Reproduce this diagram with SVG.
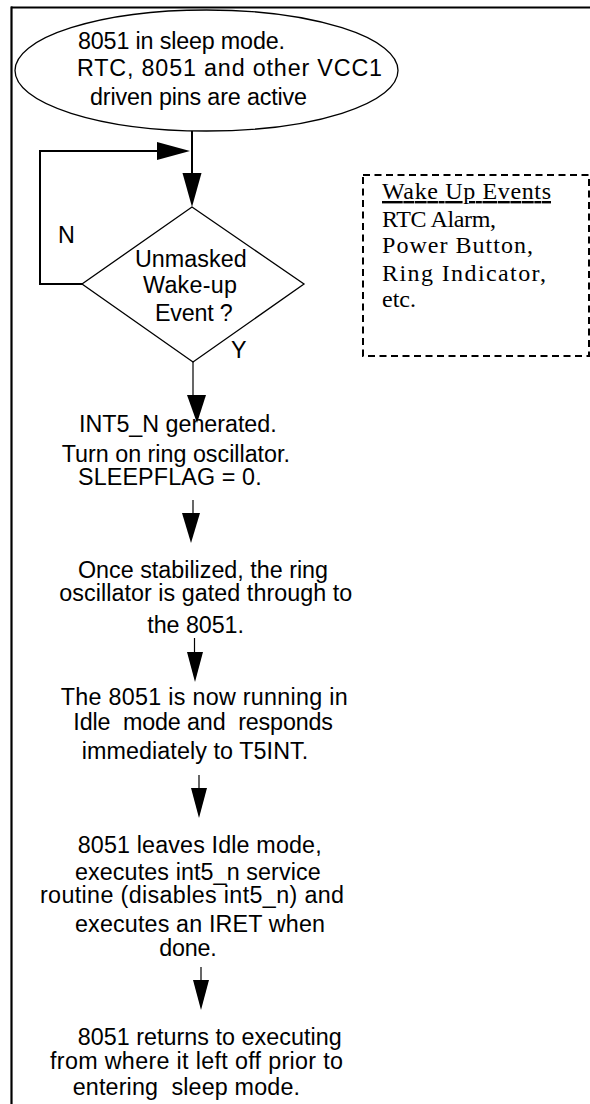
<svg xmlns="http://www.w3.org/2000/svg" width="590" height="1104" viewBox="0 0 590 1104">
<style>
.t{font-family:"Liberation Sans",Arial,Helvetica,sans-serif;font-size:23.3px;fill:#000}
.s{font-family:"Liberation Serif","Times New Roman",serif;font-size:24px;fill:#000}
.ln{fill:none;stroke:#000;stroke-width:2}
.th{fill:none;stroke:#000;stroke-width:1.2}
.hd{fill:#000;stroke:none}
.shape{fill:none;stroke:#000;stroke-width:1.3}
</style>
<rect x="0" y="0" width="590" height="1104" fill="#fff"/>
<g id="frame">
<line x1="11" y1="7.5" x2="590" y2="7.5" stroke="#000" stroke-width="2.2"/>
<line x1="11.5" y1="6.5" x2="11.5" y2="1104" stroke="#000" stroke-width="2.2"/>
</g>
<g id="connectors">
<line class="ln" x1="192" y1="131" x2="192" y2="176"/>
<polygon class="hd" points="182.5,173 201.5,173 192,207"/>
<polyline class="ln" points="82,284 40,284 40,151 160,151"/>
<polygon class="hd" points="157,142 157,160 190,151"/>
<line class="th" x1="193" y1="362" x2="193" y2="398"/>
<polygon class="hd" points="187,395 206,395 197,423"/>
<line class="th" x1="193" y1="500" x2="193" y2="516"/>
<polygon class="hd" points="182,513 200,513 191,543"/>
<line class="th" x1="194.5" y1="638" x2="194.5" y2="655"/>
<polygon class="hd" points="187,652 203,652 195,682"/>
<line class="th" x1="199" y1="775" x2="199" y2="791"/>
<polygon class="hd" points="191,788 207,788 199,818"/>
<line class="th" x1="201" y1="967" x2="201" y2="983"/>
<polygon class="hd" points="193,980 209,980 201,1010"/>
</g>
<g id="start">
<ellipse class="shape" cx="206.5" cy="70.5" rx="191.5" ry="60.5"/>
<text class="t" x="78" y="49" textLength="207" lengthAdjust="spacing">8051 in sleep mode.</text>
<text class="t" x="77" y="76" textLength="305" lengthAdjust="spacing">RTC, 8051 and other VCC1</text>
<text class="t" x="90" y="105" textLength="217" lengthAdjust="spacing">driven pins are active</text>
</g>
<g id="decision">
<polygon class="shape" points="192,207 304,284 193,362 82,284"/>
<text class="t" x="135" y="267" textLength="111.7" lengthAdjust="spacing">Unmasked</text>
<text class="t" x="143" y="293" textLength="94" lengthAdjust="spacing">Wake-up</text>
<text class="t" x="155" y="321" textLength="77.7" lengthAdjust="spacing">Event ?</text>
<text class="t" x="58" y="243">N</text>
<text class="t" x="231" y="358">Y</text>
</g>
<g id="wake-events">
<rect x="363" y="175" width="226" height="181" fill="none" stroke="#000" stroke-width="2" stroke-dasharray="7,4.5"/>
<text class="s" x="382" y="199" textLength="169" lengthAdjust="spacing" text-decoration="underline">Wake Up Events</text>
<text class="s" x="382" y="227" textLength="114" lengthAdjust="spacing">RTC Alarm,</text>
<text class="s" x="382" y="253" textLength="151" lengthAdjust="spacing">Power Button,</text>
<text class="s" x="382" y="281" textLength="164" lengthAdjust="spacing">Ring Indicator,</text>
<text class="s" x="382" y="307">etc.</text>
</g>
<g id="step1">
<text class="t" x="79" y="432" textLength="197.7" lengthAdjust="spacing">INT5_N generated.</text>
<text class="t" x="61.7" y="462" textLength="228.3" lengthAdjust="spacing">Turn on ring oscillator.</text>
<text class="t" x="78" y="485" textLength="183.7" lengthAdjust="spacing">SLEEPFLAG = 0.</text>
</g>
<g id="step2">
<text class="t" x="78" y="578" textLength="250" lengthAdjust="spacing">Once stabilized, the ring</text>
<text class="t" x="59.3" y="601" textLength="293" lengthAdjust="spacing">oscillator is gated through to</text>
<text class="t" x="147.3" y="633" textLength="96.7" lengthAdjust="spacing">the 8051.</text>
</g>
<g id="step3">
<text class="t" x="60.7" y="705" textLength="287" lengthAdjust="spacing">The 8051 is now running in</text>
<text class="t" x="73.3" y="730" xml:space="preserve" textLength="259.7" lengthAdjust="spacing">Idle  mode and  responds</text>
<text class="t" x="81.7" y="759" textLength="226.6" lengthAdjust="spacing">immediately to T5INT.</text>
</g>
<g id="step4">
<text class="t" x="77.7" y="853" textLength="244" lengthAdjust="spacing">8051 leaves Idle mode,</text>
<text class="t" x="75" y="880" textLength="245.7" lengthAdjust="spacing">executes int5_n service</text>
<text class="t" x="40" y="903" textLength="304" lengthAdjust="spacing">routine (disables int5_n) and</text>
<text class="t" x="75" y="932" textLength="250" lengthAdjust="spacing">executes an IRET when</text>
<text class="t" x="159.3" y="956" textLength="57.4" lengthAdjust="spacing">done.</text>
</g>
<g id="step5">
<text class="t" x="77.7" y="1045" textLength="264" lengthAdjust="spacing">8051 returns to executing</text>
<text class="t" x="50" y="1069" textLength="293" lengthAdjust="spacing">from where it left off prior to</text>
<text class="t" x="72.7" y="1095" xml:space="preserve" textLength="227.3" lengthAdjust="spacing">entering  sleep mode.</text>
</g>
</svg>
